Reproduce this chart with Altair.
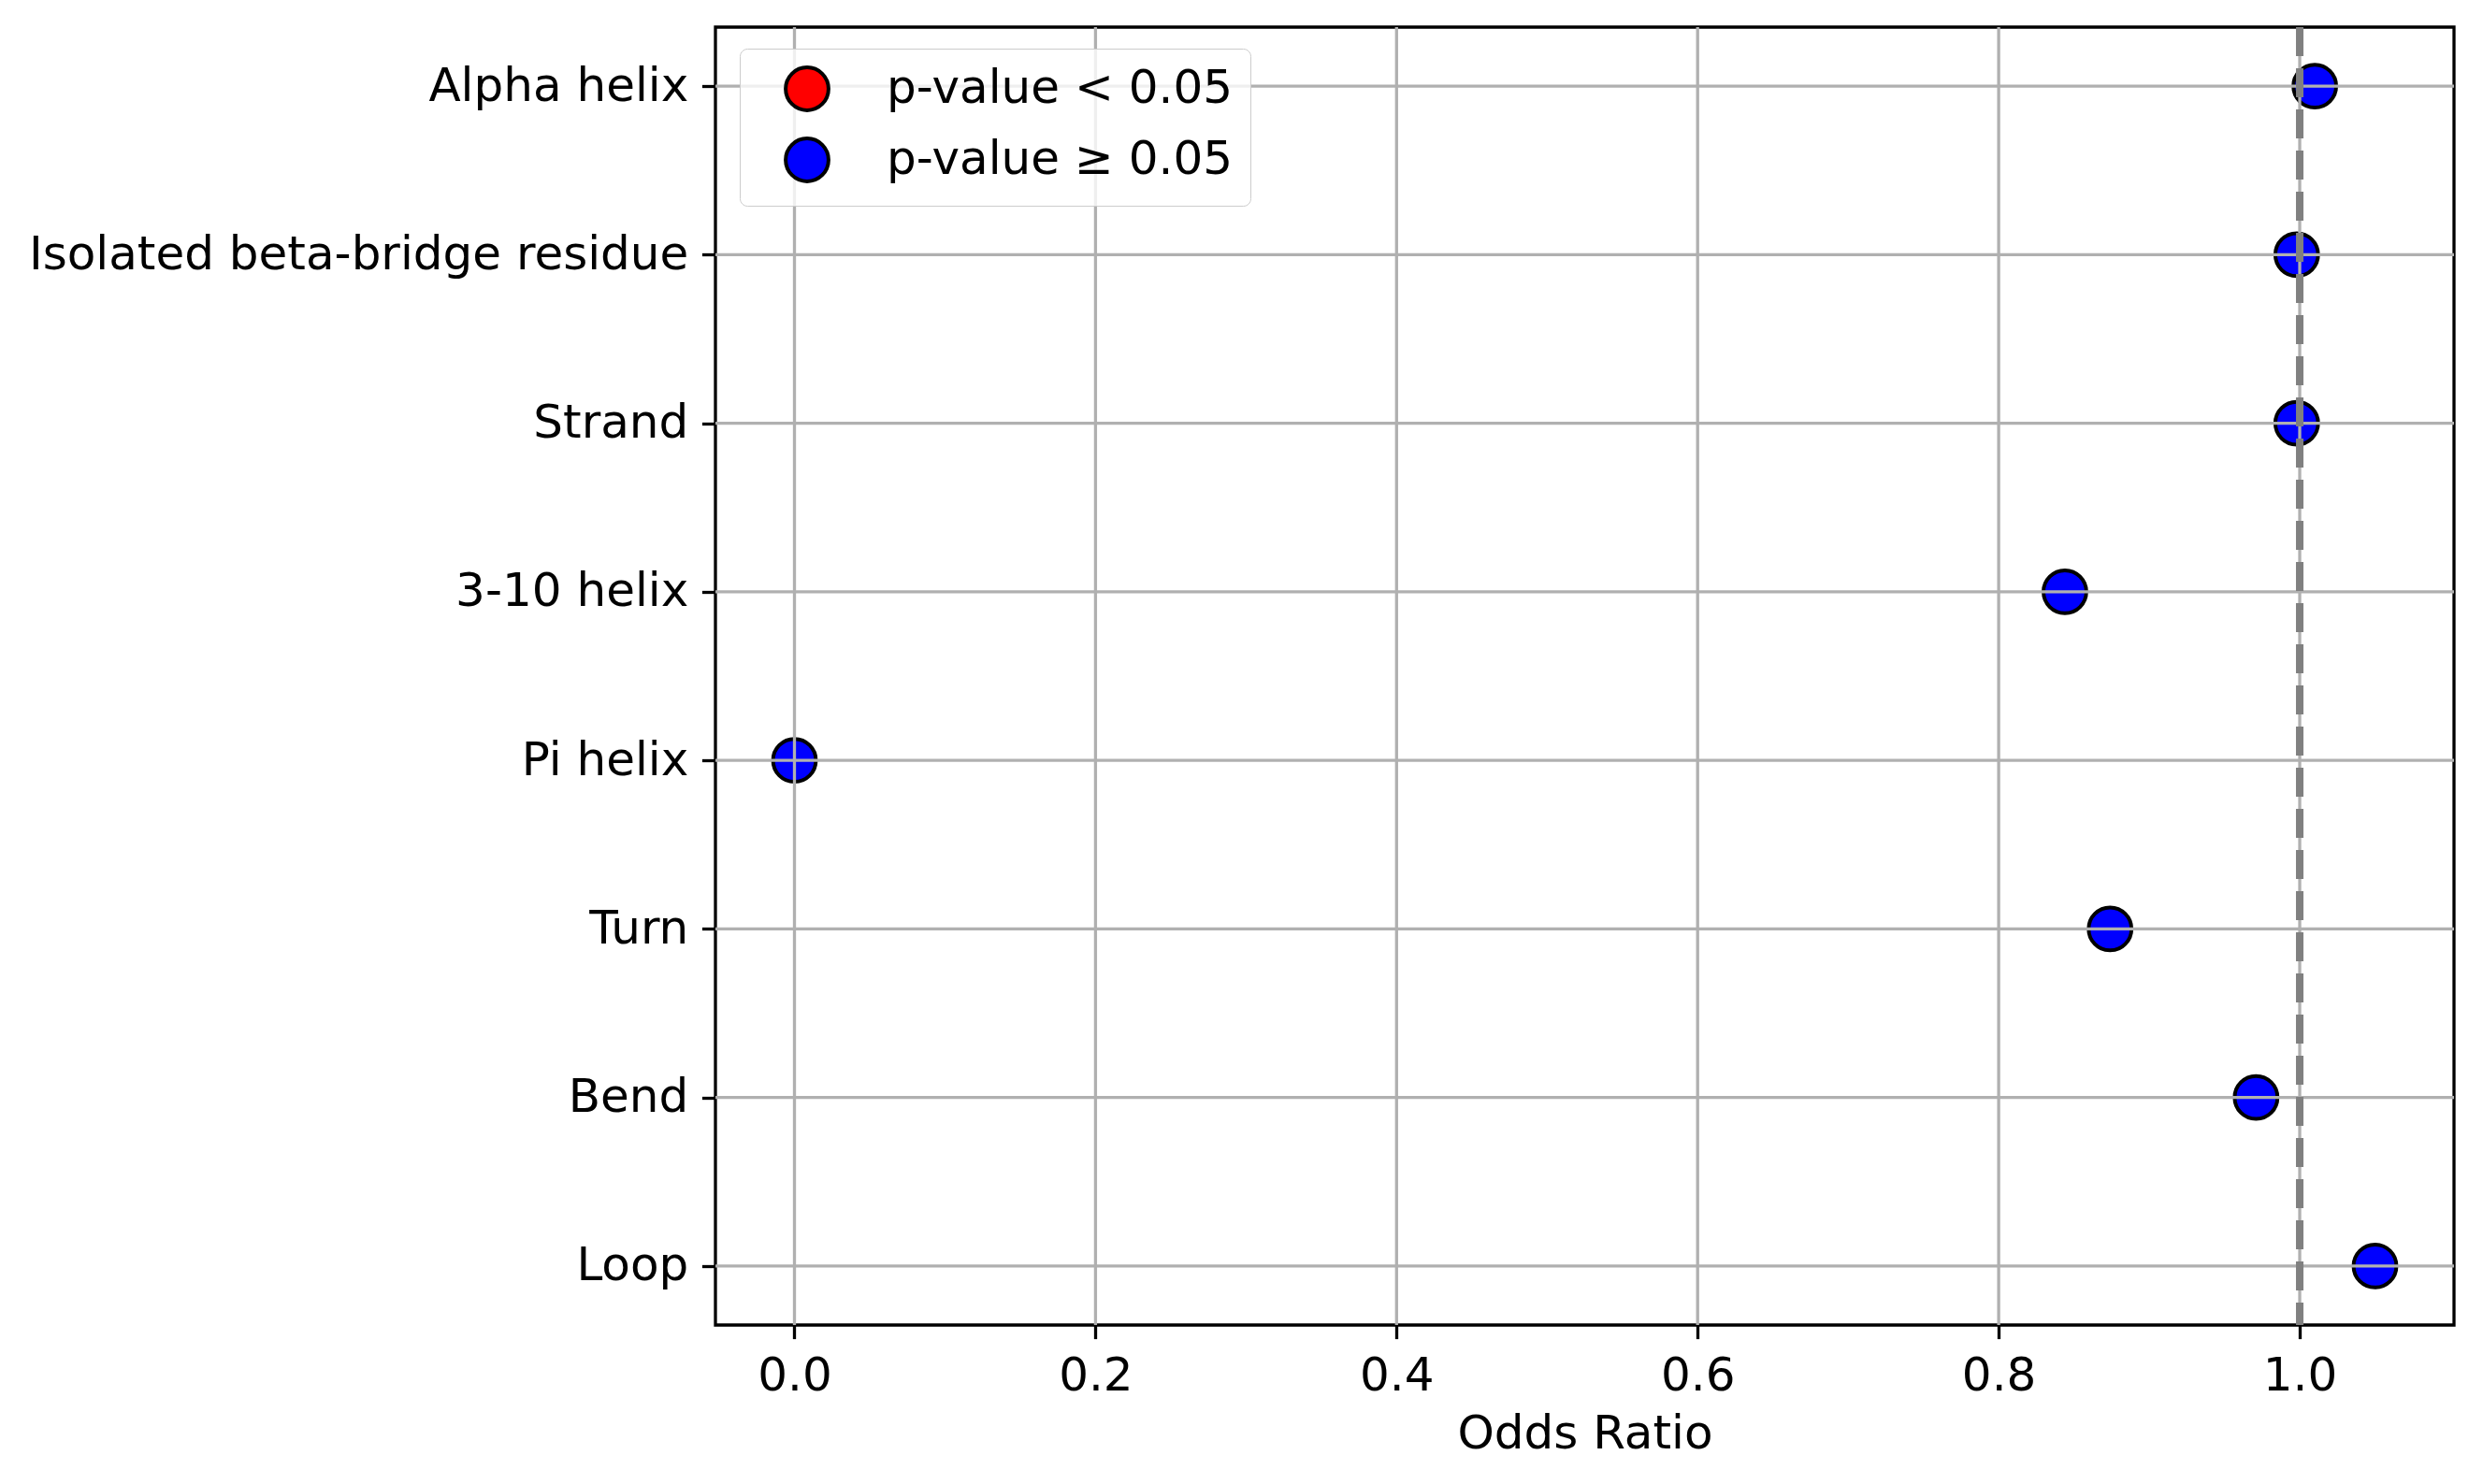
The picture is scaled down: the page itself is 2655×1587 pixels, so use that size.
import altair as alt
import pandas as pd

categories = ["Alpha helix", "Isolated beta-bridge residue", "Strand", "3-10 helix",
              "Pi helix", "Turn", "Bend", "Loop"]
odds_ratios = [1.01, 0.998, 0.998, 0.844, 0.0, 0.874, 0.971, 1.05]
significance = ["p-value ≥ 0.05"] * 8
legend_labels = ["p-value < 0.05", "p-value ≥ 0.05"]
legend_colors = ["#ff0000", "#0000ff"]
x_ticks = [0.0, 0.2, 0.4, 0.6, 0.8, 1.0]
ref_value = [1.0]

FONT = "DejaVu Sans"
FS = 50
LW = 3.3

df = pd.DataFrame({"category": categories, "odds": odds_ratios, "sig": significance})
xgrid = pd.DataFrame({"t": x_ticks})
ygrid = pd.DataFrame({"category": categories})
ref = pd.DataFrame({"v": ref_value})

xscale = alt.Scale(domain=[-0.0525, 1.1025], nice=False, zero=False)
yscale = alt.Scale(domain=categories, type="point", padding=0.35)

points = alt.Chart(df).mark_point(
    shape="circle", filled=True, size=2100, stroke="black", strokeWidth=4, opacity=1
).encode(
    x=alt.X("odds:Q", scale=xscale,
            axis=alt.Axis(values=x_ticks, format=".1f", title="Odds Ratio")),
    y=alt.Y("category:N", scale=yscale, sort=categories, axis=alt.Axis(title=None)),
    color=alt.Color("sig:N",
                    scale=alt.Scale(domain=legend_labels, range=legend_colors),
                    legend=alt.Legend(
                        title=None, orient="none", legendX=26, legendY=23,
                        symbolType="circle", symbolSize=2100,
                        symbolStrokeColor="black", symbolStrokeWidth=4,
                        labelFont=FONT, labelFontSize=FS, labelColor="black",
                        labelOffset=60, symbolOffset=29,
                        rowPadding=14, padding=18,
                        fillColor="rgba(255,255,255,0.8)", strokeColor="#cccccc",
                        cornerRadius=8, labelLimit=1000)),
)

vgrid = alt.Chart(xgrid).mark_rule(color="#b0b0b0", strokeWidth=LW).encode(
    x=alt.X("t:Q", scale=xscale)
)
hgrid = alt.Chart(ygrid).mark_rule(color="#b0b0b0", strokeWidth=LW).encode(
    y=alt.Y("category:N", scale=yscale, sort=categories)
)
refline = alt.Chart(ref).mark_rule(color="#808080", strokeWidth=8, strokeDash=[31, 13]).encode(
    x=alt.X("v:Q", scale=xscale)
)

chart = alt.layer(points, vgrid, hgrid, refline).properties(
    width=1859, height=1388,
    autosize=alt.AutoSizeParams(type="none"),
    padding={"left": 757, "top": 21, "right": 20, "bottom": 162},
).configure_view(
    stroke="black", strokeWidth=LW
).configure_axis(
    grid=False, domain=False,
    labelFont=FONT, labelFontSize=FS, labelColor="black",
    titleFont=FONT, titleFontSize=FS, titleColor="black", titleFontWeight="normal",
    tickColor="black", tickWidth=LW, tickSize=14.6, labelPadding=14.6,
    titlePadding=12, labelLimit=2000,
)

chart.save("out.html", embed_options={"renderer": "svg", "actions": False})
